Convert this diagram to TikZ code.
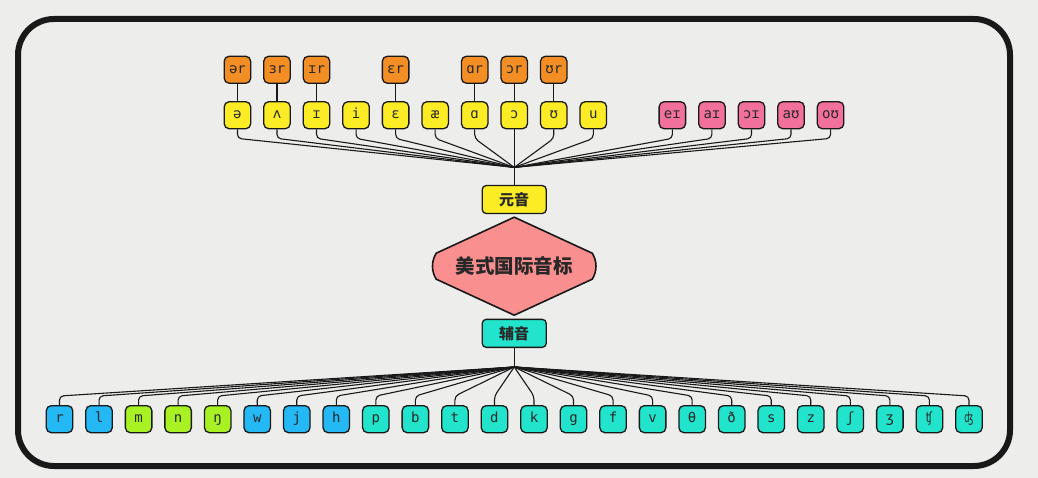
\documentclass[tikz,border=0pt]{standalone}
\usepackage{fontspec}
\setmonofont{DejaVu Sans Mono}
\newfontfamily\cjk{Noto Sans CJK SC}
\usepackage{tikz}
\usetikzlibrary{shapes,calc,positioning}
\usepackage{xcolor}

\definecolor{paper}{RGB}{237,237,235}
\definecolor{boxline}{RGB}{25,25,25}
\definecolor{textdark}{RGB}{40,40,40}
\definecolor{vowelfill}{RGB}{252,236,38}
\definecolor{rfill}{RGB}{243,142,36}
\definecolor{diphfill}{RGB}{241,112,156}
\definecolor{glidefill}{RGB}{36,184,244}
\definecolor{nasalfill}{RGB}{168,242,36}
\definecolor{consfill}{RGB}{34,228,204}
\definecolor{hexfill}{RGB}{249,143,143}

\begin{document}
\begin{tikzpicture}[x=1pt,y=-1pt,
	  every node/.style={align=center,text=textdark,draw=none},
	  every matrix/.style={ampersand replacement=\&,column sep=11.74pt,row sep=17.2pt},
	  ipabox/.style={draw=boxline,line width=1.3pt,rounded corners=5pt,minimum width=26.5pt,minimum height=27pt,inner sep=1pt,text height=10pt,text depth=3pt,font=\ttfamily\fontsize{14}{14}\selectfont},
	  vowel/.style={ipabox,fill=vowelfill},
	  rvowel/.style={ipabox,fill=rfill},
	  diph/.style={ipabox,fill=diphfill},
	  glide/.style={ipabox,fill=glidefill},
	  nasal/.style={ipabox,fill=nasalfill},
	  cons/.style={ipabox,fill=consfill},
	  group/.style={draw=boxline,line width=1.3pt,rounded corners=4pt,minimum width=64pt,minimum height=28pt,inner sep=1pt,font=\cjk\bfseries\fontsize{15}{15}\selectfont},
	  hexlabel/.style={minimum width=166pt,minimum height=98pt,inner sep=0pt,font=\cjk\bfseries\fontsize{19.5}{19.5}\selectfont},
	  branch/.style={draw=boxline,line width=1.1pt,rounded corners=4pt}]

	  % paper and frame
	  \fill[paper] (0,0) rectangle (1038,478);
	  \draw[boxline,line width=6pt,rounded corners=36pt] (18,19) rectangle (1010,466);

	  % Position the vowels using a matrix layout
	  \matrix (vowels) at (534,92.5) {
	    \node[rvowel] (r1) {ər}; \& \node[rvowel] (r2) {ɜr}; \& \node[rvowel] (r3) {ɪr}; \& \& \node[rvowel] (r5) {ɛr}; \& \& \node[rvowel] (r7) {ɑr}; \& \node[rvowel] (r8) {ɔr}; \& \node[rvowel] (r9) {ʊr}; \\
	    \node[vowel] (v1) {ə}; \& \node[vowel] (v2) {ʌ}; \& \node[vowel] (v3) {ɪ}; \& \node[vowel] (v4) {i}; \& \node[vowel] (v5) {ɛ}; \& \node[vowel] (v6) {æ}; \& \node[vowel] (v7) {ɑ}; \& \node[vowel] (v8) {ɔ}; \& \node[vowel] (v9) {ʊ}; \& \node[vowel] (v10) {u};
	    \&[39.54pt] \node[diph] (d1) {eɪ}; \& \node[diph] (d2) {aɪ}; \& \node[diph] (d3) {ɔɪ}; \& \node[diph] (d4) {aʊ}; \& \node[diph] (d5) {oʊ}; \\
	  };

	  \coordinate (vj) at ($(v8.south)+(0,38)$);
	  \node[group,fill=vowelfill,below=17.5pt of vj] (yuan) {元音};

	  % hexagon
	  \coordinate (ipac) at ($(yuan.south)+(0,52)$);
	  \fill[hexfill,draw=boxline,line width=1.6pt]
	    ($(ipac)+(0,-49)$) -- ($(ipac)+(78,-13)$) .. controls ($(ipac)+(83,-5)$) and ($(ipac)+(83,5)$) .. ($(ipac)+(78,13)$)
	    -- ($(ipac)+(0,49)$) -- ($(ipac)+(-78,13)$) .. controls ($(ipac)+(-83,5)$) and ($(ipac)+(-83,-5)$) .. ($(ipac)+(-78,-13)$) -- cycle;
	  \node[hexlabel] (ipa) at (ipac) {美式国际音标};

	  \node[group,fill=consfill,below=52.5pt of ipac] (fuyin) {辅音};
	  \coordinate (cj) at ($(fuyin.south)+(0,19)$);

	  % Position the consonants using a matrix layout
	  \matrix (consonants) [below=34.5pt of cj] {
	    \node[glide] (c1) {r}; \& \node[glide] (c2) {l}; \& \node[nasal] (c3) {m}; \& \node[nasal] (c4) {n}; \& \node[nasal] (c5) {ŋ}; \& \node[glide] (c6) {w}; \& \node[glide] (c7) {j}; \& \node[glide] (c8) {h};
	    \& \node[cons] (c9) {p}; \& \node[cons] (c10) {b}; \& \node[cons] (c11) {t}; \& \node[cons] (c12) {d}; \& \node[cons] (c13) {k}; \& \node[cons] (c14) {g}; \& \node[cons] (c15) {f}; \& \node[cons] (c16) {v};
	    \& \node[cons] (c17) {θ}; \& \node[cons] (c18) {ð}; \& \node[cons] (c19) {s}; \& \node[cons] (c20) {z}; \& \node[cons] (c21) {ʃ}; \& \node[cons] (c22) {ʒ}; \& \node[cons] (c23) {ʧ}; \& \node[cons] (c24) {ʤ}; \\
	  };

	  % connectors
	  \foreach \i in {1,2,3,5,7,8,9}
	    \draw[branch] (r\i.south) -- (v\i.north);
	  \foreach \i in {1,...,10}
	    \draw[branch] (v\i.south) -- ++(0,9) -- (vj);
	  \foreach \i in {1,...,5}
	    \draw[branch] (d\i.south) -- ++(0,9) -- (vj);
	  \draw[branch] (vj) -- (yuan.north);
	  \draw[branch] (fuyin.south) -- (cj);
	  \foreach \i in {1,...,24}
	    \draw[branch] (cj) -- ($(c\i.north)+(0,-9)$) -- (c\i.north);

\end{tikzpicture}
\end{document}
